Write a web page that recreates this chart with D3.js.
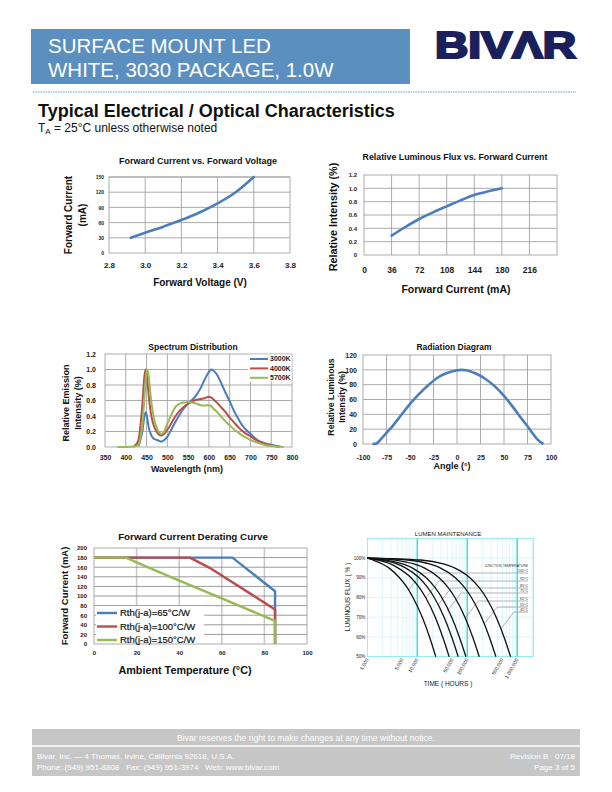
<!DOCTYPE html>
<html>
<head>
<meta charset="utf-8">
<script src="https://cdn.jsdelivr.net/npm/d3@7"></script>
<style>
  body { margin: 0; background: #fff; }
  svg { font-family: "Liberation Sans", Arial, Helvetica, sans-serif; }
  text { white-space: pre; }
</style>
</head>
<body>
<svg width="612" height="792"></svg>
<script>
// ---- data ----
const fvVoltage = [2.92, 3.0, 3.1, 3.2, 3.3, 3.4, 3.5, 3.6];
const fvCurrent = [30, 40, 52, 65, 80, 98, 120, 150];

const fluxCurrent = [36, 54, 72, 90, 108, 126, 144, 162, 180];
const fluxRel = [0.29, 0.42, 0.54, 0.64, 0.73, 0.82, 0.90, 0.955, 1.0];

const wavelength = [380, 400, 420, 430, 440, 445, 448, 450, 452, 455, 460, 465, 470, 475, 480, 485, 490,
  500, 510, 520, 530, 540, 550, 560, 570, 580, 590, 600, 605, 610, 620, 630, 640, 650, 660, 670, 680,
  690, 700, 710, 720, 730, 740, 750, 760, 770, 780];
const spec3000 = [null, null, null, 0.01, 0.20, 0.40, 0.45, 0.42, 0.36, 0.26, 0.17, 0.12, 0.10, 0.09, 0.08, 0.07, 0.08,
  0.13, 0.23, 0.33, 0.42, 0.50, 0.56, 0.61, 0.67, 0.76, 0.87, 0.97, 1.0, 0.99, 0.93, 0.82, 0.70, 0.59, 0.47, 0.37, 0.28,
  0.22, 0.17, 0.12, 0.08, 0.06, 0.04, 0.03, 0.015, 0.005, null];
const spec4000 = [null, null, 0.01, 0.08, 0.55, 0.92, 1.0, 0.95, 0.85, 0.68, 0.45, 0.32, 0.24, 0.19, 0.16, 0.15, 0.16,
  0.22, 0.31, 0.40, 0.47, 0.52, 0.56, 0.59, 0.61, 0.62, 0.63, 0.65, 0.64, 0.62, 0.57, 0.51, 0.45, 0.38, 0.32, 0.26, 0.21,
  0.17, 0.14, 0.10, 0.07, 0.05, 0.03, 0.02, 0.01, 0.005, null];
const spec5700 = [0, 0, 0.005, 0.03, 0.30, 0.65, 0.88, 0.97, 1.0, 0.92, 0.65, 0.45, 0.32, 0.24, 0.19, 0.17, 0.18,
  0.30, 0.42, 0.52, 0.56, 0.575, 0.58, 0.575, 0.56, 0.54, 0.535, 0.54, 0.53, 0.50, 0.45, 0.39, 0.33, 0.28, 0.23, 0.19, 0.15,
  0.12, 0.09, 0.07, 0.05, 0.035, 0.02, 0.015, 0.01, 0.005, 0];
const specNames = ['3000K', '4000K', '5700K'];

const radAngle = [-90, -86, -80, -75, -70, -60, -50, -40, -30, -20, -10, 0, 5, 10, 20, 30, 40, 50, 60, 70, 75, 80, 85, 90, 92];
const radValue = [0, 0.5, 8, 15, 22, 38, 54, 68, 80, 90, 96, 99.5, 100, 99.5, 95, 88, 78, 65, 49, 32, 24, 15, 7, 1.5, 0];

const derate65 = [[0, 180], [65, 180], [85, 110], [85, 0]];
const derate100 = [[0, 180], [45, 180], [55, 157], [85, 72], [85, 0]];
const derate150 = [[0, 180], [15, 180], [20, 170], [40, 132], [60, 95], [85, 48], [85, 0]];
const derateNames = ['Rth(j-a)=65°C/W', 'Rth(j-a)=100°C/W', 'Rth(j-a)=150°C/W'];

const lm105 = [[1000, 100], [1300, 99], [2000, 97], [2700, 95], [4400, 90], [6300, 85], [8200, 80], [12600, 70], [17600, 60], [23500, 50]];
const lm95 = [[1000, 100], [1600, 99], [2900, 97], [4100, 95], [7500, 90], [11000, 85], [14700, 80], [22900, 70], [32300, 60], [43500, 50]];
const lm85 = [[1000, 100], [1900, 99], [3900, 97], [5800, 95], [10900, 90], [16200, 85], [21900, 80], [34400, 70], [48900, 60], [66000, 50]];
const lm75 = [[1000, 100], [2300, 99], [5100, 97], [7900, 95], [15100, 90], [22800, 85], [30900, 80], [48900, 70], [69500, 60], [94000, 50]];
const lm65 = [[1000, 100], [3500, 99], [8600, 97], [13800, 95], [27300, 90], [41600, 85], [56700, 80], [90000, 70], [128500, 60], [174000, 50]];
const lm55 = [[1000, 100], [6400, 99], [17400, 97], [28700, 95], [57800, 90], [88700, 85], [121400, 80], [193500, 70], [276600, 60], [375000, 50]];
const lm45 = [[1000, 100], [11700, 99], [33400, 97], [55500, 95], [113000, 90], [173800, 85], [238200, 80], [380300, 70], [544200, 60], [738000, 50]];
const lmTemps = ['105°C', '95°C', '85°C', '75°C', '65°C', '55°C', '45°C'];
const lmHourTicks = [1000, 5000, 10000, 50000, 100000, 500000, 1000000];
const lmFluxTicks = [100, 90, 80, 70, 60, 50];

const BLUE = '#4a7ebb', RED = '#be4b48', GREEN = '#98b954';
const FONT = '"Liberation Sans", Arial, Helvetica, sans-serif';
const plain = d => String(d);   // keep the ascii hyphen for negatives

const svg = d3.select('svg');

function txt(x, y, s, size, o = {}) {
  return svg.append('text')
    .attr('x', x).attr('y', y)
    .attr('font-size', size)
    .attr('font-weight', o.bold ? 'bold' : null)
    .attr('text-anchor', o.anchor || 'start')
    .attr('fill', o.fill || '#111')
    .text(s);
}
function vtxt(x, y, s, size, o = {}) {
  return svg.append('text')
    .attr('transform', `translate(${x},${y}) rotate(-90)`)
    .attr('font-size', size)
    .attr('font-weight', o.bold === false ? null : 'bold')
    .attr('text-anchor', 'middle')
    .attr('fill', o.fill || '#111')
    .text(s);
}

// generic excel-like plot box
function plot(o) {
  const g = svg.append('g');
  const x = o.x.range([o.l, o.r]);
  const y = d3.scaleLinear().domain(o.yDomain).range([o.b, o.t]);
  g.append('rect').attr('x', o.l).attr('y', o.t).attr('width', o.r - o.l).attr('height', o.b - o.t).attr('fill', '#fff');
  g.selectAll('line.vg').data(o.xGrid).join('line').attr('class', 'vg')
    .attr('x1', d => x(d)).attr('x2', d => x(d)).attr('y1', o.t).attr('y2', o.b)
    .attr('stroke', o.vColor || '#a3a3a3').attr('stroke-width', o.vWidth || 0.9);
  g.selectAll('line.hg').data(o.yGrid).join('line').attr('class', 'hg')
    .attr('x1', o.l).attr('x2', o.r).attr('y1', d => y(d)).attr('y2', d => y(d))
    .attr('stroke', o.hColor || '#a3a3a3').attr('stroke-width', o.hWidth || 0.9);
  g.append('rect').attr('x', o.l).attr('y', o.t).attr('width', o.r - o.l).attr('height', o.b - o.t)
    .attr('fill', 'none').attr('stroke', o.border || '#a3a3a3').attr('stroke-width', 0.9);

  g.append('g').attr('transform', `translate(0,${o.b})`)
    .call(d3.axisBottom(x).tickValues(o.xTicks).tickSize(0).tickPadding(o.xPad).tickFormat(o.xFmt))
    .call(s => {
      s.select('.domain').remove();
      s.attr('font-family', FONT).attr('font-size', o.xFs).attr('font-weight', 'bold');
      s.selectAll('text').attr('fill', '#222');
    });
  g.append('g').attr('transform', `translate(${o.l},0)`)
    .call(d3.axisLeft(y).tickValues(o.yTicks).tickSize(0).tickPadding(o.yPad).tickFormat(o.yFmt))
    .call(s => {
      s.select('.domain').remove();
      s.attr('font-family', FONT).attr('font-size', o.yFs).attr('font-weight', 'bold');
      s.selectAll('text').attr('fill', '#222');
    });
  return { g, x, y };
}

// ---- header ----
svg.append('rect').attr('x', 31).attr('y', 29).attr('width', 379).attr('height', 55).attr('fill', '#5b8fbf');
txt(48, 53, 'SURFACE MOUNT LED', 20.5, { fill: '#fff' });
txt(48, 77, 'WHITE, 3030 PACKAGE, 1.0W', 20.5, { fill: '#fff' });
svg.append('text').attr('x', 435).attr('y', 57.5).attr('font-size', 36).attr('font-weight', 'bold')
  .attr('fill', '#1b1f5c').attr('stroke', '#1b1f5c').attr('stroke-width', 2.2).attr('stroke-linejoin', 'miter')
  .attr('textLength', 141).attr('lengthAdjust', 'spacingAndGlyphs').text('BIVΛR');
svg.append('line').attr('x1', 33).attr('x2', 576).attr('y1', 92).attr('y2', 92)
  .attr('stroke', '#9dbde2').attr('stroke-width', 1.6).attr('stroke-dasharray', '1.6,0.9');
txt(38, 116.5, 'Typical Electrical / Optical Characteristics', 18, { bold: true });
const ta = txt(38, 131.5, 'T', 12);
ta.append('tspan').attr('font-size', 8).attr('dy', 2).text('A');
ta.append('tspan').attr('dy', -2).text(' = 25°C unless otherwise noted');

// ---- chart 1: forward current vs forward voltage ----
{
  const p = plot({
    l: 109, r: 290, t: 177, b: 253,
    x: d3.scaleLinear().domain([2.8, 3.8]), yDomain: [0, 150],
    xGrid: [3.0, 3.2, 3.4, 3.6], yGrid: [30, 60, 90, 120, 150],
    xTicks: [2.8, 3.0, 3.2, 3.4, 3.6, 3.8], yTicks: [0, 30, 60, 90, 120, 150],
    xFmt: d3.format('.1f'), yFmt: plain,
    xFs: 8, yFs: 5, xPad: 9, yPad: 5
  });
  p.g.append('path').datum(fvVoltage.map((v, i) => [v, fvCurrent[i]]))
    .attr('fill', 'none').attr('stroke', BLUE).attr('stroke-width', 2.6).attr('stroke-linecap', 'round')
    .attr('d', d3.line().x(d => p.x(d[0])).y(d => p.y(d[1])).curve(d3.curveMonotoneX));
  txt(198, 164, 'Forward Current vs. Forward Voltage', 9, { bold: true, anchor: 'middle' });
  txt(200, 285.5, 'Forward Voltage (V)', 10, { bold: true, anchor: 'middle' });
  vtxt(72, 215, 'Forward Current', 10);
  vtxt(86, 215, '(mA)', 10);
}

// ---- chart 2: relative luminous flux vs forward current ----
{
  const p = plot({
    l: 364, r: 557, t: 175, b: 255,
    x: d3.scaleLinear().domain([0, 252]), yDomain: [0, 1.2],
    xGrid: [36, 72, 108, 144, 180, 216], yGrid: [0.2, 0.4, 0.6, 0.8, 1.0],
    xTicks: [0, 36, 72, 108, 144, 180, 216], yTicks: [0, 0.2, 0.4, 0.6, 0.8, 1.0, 1.2],
    xFmt: plain, yFmt: d => d === 0 ? '0' : d3.format('.1f')(d),
    xFs: 8.5, yFs: 6, xPad: 12, yPad: 7
  });
  p.g.append('path').datum(fluxCurrent.map((v, i) => [v, fluxRel[i]]))
    .attr('fill', 'none').attr('stroke', BLUE).attr('stroke-width', 2.6).attr('stroke-linecap', 'round')
    .attr('d', d3.line().x(d => p.x(d[0])).y(d => p.y(d[1])).curve(d3.curveMonotoneX));
  txt(455, 160, 'Relative Luminous Flux vs. Forward Current', 8.8, { bold: true, anchor: 'middle' });
  txt(456, 292.5, 'Forward Current (mA)', 10.5, { bold: true, anchor: 'middle' });
  vtxt(337, 217, 'Relative Intensity (%)', 10.8);
}

// ---- chart 3: spectrum distribution ----
{
  const p = plot({
    l: 105, r: 292, t: 354, b: 447,
    x: d3.scaleLinear().domain([350, 800]), yDomain: [0, 1.2],
    xGrid: d3.range(400, 800, 50), yGrid: [0.2, 0.4, 0.6, 0.8, 1.0],
    xTicks: d3.range(350, 801, 50), yTicks: [0, 0.2, 0.4, 0.6, 0.8, 1.0, 1.2],
    xFmt: plain, yFmt: d3.format('.1f'),
    xFs: 7, yFs: 7, xPad: 8.5, yPad: 9
  });
  const series = [spec3000, spec4000, spec5700];
  const colors = [BLUE, RED, GREEN];
  const line = d3.line().defined(d => d[1] != null).x(d => p.x(d[0])).y(d => p.y(d[1])).curve(d3.curveMonotoneX);
  series.forEach((s, i) => {
    p.g.append('path').datum(wavelength.map((w, k) => [w, s[k]]))
      .attr('fill', 'none').attr('stroke', colors[i]).attr('stroke-width', 2)
      .attr('d', line);
  });
  const lg = p.g.append('g');
  lg.append('rect').attr('x', 248).attr('y', 354.5).attr('width', 43.5).attr('height', 27).attr('fill', '#fff');
  specNames.forEach((n, i) => {
    const yy = 359 + i * 9.4;
    lg.append('line').attr('x1', 250).attr('x2', 268).attr('y1', yy).attr('y2', yy)
      .attr('stroke', colors[i]).attr('stroke-width', 2);
    lg.append('text').attr('x', 270).attr('y', yy).attr('dy', '0.35em').attr('font-size', 7)
      .attr('font-weight', 'bold').attr('fill', '#222').text(n);
  });
  txt(193, 349.5, 'Spectrum Distribution', 8.5, { bold: true, anchor: 'middle' });
  txt(187, 472, 'Wavelength (nm)', 9, { bold: true, anchor: 'middle' });
  vtxt(68.5, 403, 'Relative Emission', 9);
  vtxt(81, 403, 'Intensity (%)', 9);
}

// ---- chart 4: radiation diagram ----
{
  const p = plot({
    l: 363, r: 551, t: 355, b: 444,
    x: d3.scaleLinear().domain([-100, 100]), yDomain: [0, 120],
    xGrid: d3.range(-75, 100, 25), yGrid: [20, 40, 60, 80, 100],
    xTicks: d3.range(-100, 101, 25), yTicks: [0, 20, 40, 60, 80, 100, 120],
    xFmt: plain, yFmt: plain,
    xFs: 7, yFs: 7, xPad: 11, yPad: 6
  });
  p.g.append('path').datum(radAngle.map((a, i) => [a, radValue[i]]))
    .attr('fill', 'none').attr('stroke', BLUE).attr('stroke-width', 2.6)
    .attr('d', d3.line().x(d => p.x(d[0])).y(d => p.y(d[1])).curve(d3.curveMonotoneX));
  txt(454, 349.5, 'Radiation Diagram', 8.5, { bold: true, anchor: 'middle' });
  txt(452, 468.5, 'Angle (°)', 9, { bold: true, anchor: 'middle' });
  vtxt(333.5, 397, 'Relative Luminous', 8.7);
  vtxt(344.5, 397, 'Intensity (%)', 8.7);
}

// ---- chart 5: forward current derating ----
{
  const p = plot({
    l: 94, r: 307, t: 548, b: 644,
    x: d3.scaleLinear().domain([0, 100]), yDomain: [0, 200],
    xGrid: [20, 40, 60, 80], yGrid: d3.range(20, 200, 20),
    xTicks: d3.range(0, 101, 20), yTicks: d3.range(0, 201, 20),
    xFmt: plain, yFmt: plain,
    xFs: 6, yFs: 6, xPad: 7, yPad: 7,
    vColor: '#c9c9c9', vWidth: 1.6, hColor: '#8e8e8e', hWidth: 0.9
  });
  const line = d3.line().x(d => p.x(d[0])).y(d => p.y(d[1]));
  const series = [derate65, derate100, derate150];
  const colors = [BLUE, RED, GREEN];
  const lg = p.g.append('g');
  lg.append('rect').attr('x', 96).attr('y', 606).attr('width', 108).attr('height', 37).attr('fill', '#fff');
  series.forEach((s, i) => {
    p.g.append('path').datum(s).attr('fill', 'none').attr('stroke', colors[i])
      .attr('stroke-width', 2.4).attr('stroke-linejoin', 'round').attr('d', line);
  });
  derateNames.forEach((n, i) => {
    const yy = 613 + i * 13.5;
    lg.append('line').attr('x1', 97).attr('x2', 117).attr('y1', yy).attr('y2', yy)
      .attr('stroke', colors[i]).attr('stroke-width', 2.4);
    lg.append('text').attr('x', 120).attr('y', yy).attr('dy', '0.35em').attr('font-size', 9.5)
      .attr('fill', '#111').attr('stroke', '#111').attr('stroke-width', 0.2).text(n);
  });
  txt(193, 540, 'Forward Current Derating Curve', 9.8, { bold: true, anchor: 'middle' });
  txt(185, 674, 'Ambient Temperature (°C)', 10.8, { bold: true, anchor: 'middle' });
  vtxt(67.5, 596, 'Forward Current (mA)', 9.5);
}

// ---- chart 6: lumen maintenance ----
{
  const l = 367.3, r = 533.3, t = 538.3, b = 656.7;
  const g = svg.append('g');
  const x = d3.scaleLog().domain([1000, 2100000]).range([l, r]);
  const y = d3.scaleLinear().domain([50, 110]).range([b, t]);
  const minor = x.ticks().filter(d => d > 1000);
  g.selectAll('line.mn').data(minor).join('line').attr('class', 'mn')
    .attr('x1', d => x(d)).attr('x2', d => x(d)).attr('y1', t).attr('y2', b)
    .attr('stroke', '#c2f1f4').attr('stroke-width', 0.6);
  g.selectAll('line.hz').data(lmFluxTicks).join('line').attr('class', 'hz')
    .attr('x1', l).attr('x2', r).attr('y1', d => y(d)).attr('y2', d => y(d))
    .attr('stroke', '#c2f1f4').attr('stroke-width', 0.6);
  g.selectAll('line.mj').data([10000, 100000, 1000000]).join('line').attr('class', 'mj')
    .attr('x1', d => x(d)).attr('x2', d => x(d)).attr('y1', t).attr('y2', b)
    .attr('stroke', '#2fd3df').attr('stroke-width', 1.3);
  g.append('rect').attr('x', l).attr('y', t).attr('width', r - l).attr('height', b - t)
    .attr('fill', 'none').attr('stroke', '#7fe3ea').attr('stroke-width', 0.8);

  const curves = [lm105, lm95, lm85, lm75, lm65, lm55, lm45];
  const line = d3.line().x(d => x(d[0])).y(d => y(d[1])).curve(d3.curveMonotoneX);

  // leader lines to the junction temperature labels
  function hoursAt(c, f) {
    for (let k = 1; k < c.length; k++) {
      const [t0, f0] = c[k - 1], [t1, f1] = c[k];
      if (f <= f0 && f >= f1) {
        const u = (f0 - f) / (f0 - f1);
        return Math.pow(10, Math.log10(t0) + u * (Math.log10(t1) - Math.log10(t0)));
      }
    }
    return c[c.length - 1][0];
  }
  const rowY = [573, 581, 588, 593, 601, 607, 612];
  curves.forEach((c, i) => {
    const by = rowY[i] + 17;
    const bx = x(hoursAt(c, y.invert(by)));
    const tx = bx + 13;
    g.append('line').attr('x1', tx).attr('x2', 528).attr('y1', rowY[i]).attr('y2', rowY[i])
      .attr('stroke', '#b4b4b4').attr('stroke-width', 1.2);
    g.append('line').attr('x1', bx).attr('y1', by).attr('x2', tx).attr('y2', rowY[i])
      .attr('stroke', '#666').attr('stroke-width', 0.5);
    g.append('text').attr('x', 528).attr('y', rowY[i] - 1).attr('text-anchor', 'end')
      .attr('font-size', 3.6).attr('fill', '#333').text(lmTemps[i]);
  });
  g.append('text').attr('x', 528).attr('y', 567).attr('text-anchor', 'end')
    .attr('font-size', 3.4).attr('fill', '#333').text('JUNCTION TEMPERATURE');

  curves.forEach(c => {
    g.append('path').datum(c).attr('fill', 'none').attr('stroke', '#111').attr('stroke-width', 1.3).attr('d', line);
  });

  g.selectAll('text.yl').data(lmFluxTicks).join('text').attr('class', 'yl')
    .attr('x', l - 2).attr('y', d => y(d)).attr('dy', '0.35em').attr('text-anchor', 'end')
    .attr('font-size', 4.5).attr('fill', '#222').text(d => d + '%');
  g.selectAll('text.xl').data(lmHourTicks).join('text').attr('class', 'xl')
    .attr('transform', d => `translate(${x(d) + 1.5},${b + 3}) rotate(-60)`)
    .attr('text-anchor', 'end').attr('font-size', 5).attr('fill', '#222')
    .text(d => d3.format(',')(d));

  txt(448, 535.5, 'LUMEN MAINTENANCE', 6, { anchor: 'middle', fill: '#222' });
  txt(448, 686, 'TIME ( HOURS )', 6.5, { anchor: 'middle', fill: '#222' });
  vtxt(349.5, 597, 'LUMINOUS FLUX ( % )', 6.5, { bold: false, fill: '#222' });
}

// ---- footer ----
svg.append('rect').attr('x', 32).attr('y', 729).attr('width', 548).attr('height', 47).attr('fill', '#c6c6c6');
svg.append('line').attr('x1', 32).attr('x2', 580).attr('y1', 746).attr('y2', 746).attr('stroke', '#fff').attr('stroke-width', 1.3);
txt(306, 741, 'Bivar reserves the right to make changes at any time without notice.', 8.6, { anchor: 'middle', fill: '#fff' });
txt(37, 759, 'Bivar, Inc. — 4 Thomas, Irvine, California 92618, U.S.A.', 8, { fill: '#fff' });
txt(37, 769.5, 'Phone: (949) 951-8808   Fax: (949) 951-3974   Web: www.bivar.com', 8, { fill: '#fff' });
txt(575, 759, 'Revision B   07/18', 8, { anchor: 'end', fill: '#fff' });
txt(575, 769.5, 'Page 3 of 5', 8, { anchor: 'end', fill: '#fff' });
</script>
</body>
</html>
